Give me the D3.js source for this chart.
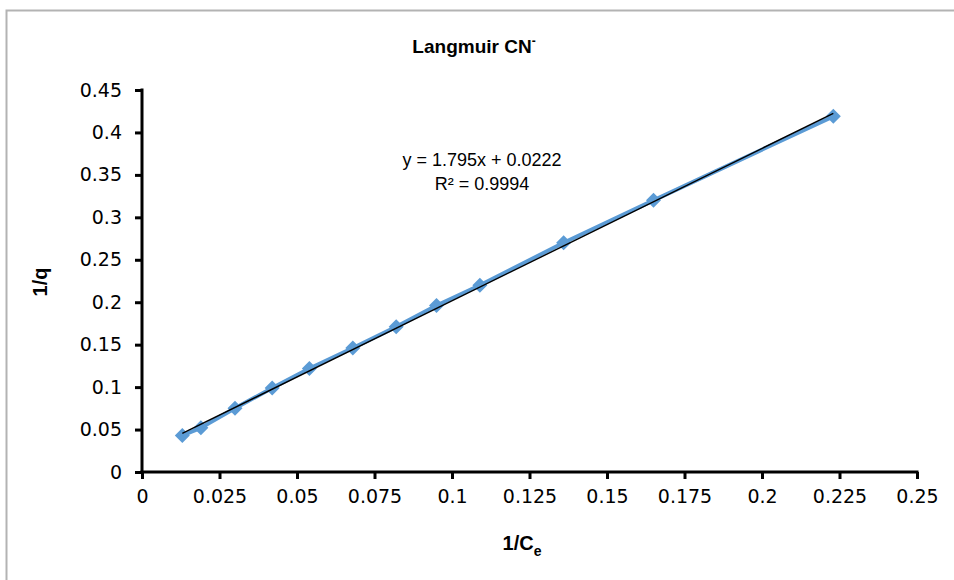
<!DOCTYPE html>
<html>
<head>
<meta charset="utf-8">
<script src="https://cdn.jsdelivr.net/npm/d3@7"></script>
<style>
  body { margin: 0; background: #fff; }
  .tick text { font-family: "DejaVu Sans", Verdana, sans-serif; font-size: 19px; fill: #000; }
</style>
</head>
<body>
<div id="chart"></div>
<script>
// Data
const invCe = [0.013, 0.019, 0.030, 0.042, 0.054, 0.068, 0.082, 0.095, 0.109, 0.136, 0.165, 0.223];
const invQ  = [0.043, 0.052, 0.075, 0.099, 0.122, 0.146, 0.171, 0.196, 0.220, 0.270, 0.320, 0.419];
const xTicks = [0, 0.025, 0.05, 0.075, 0.1, 0.125, 0.15, 0.175, 0.2, 0.225, 0.25];
const yTicks = [0, 0.05, 0.1, 0.15, 0.2, 0.25, 0.3, 0.35, 0.4, 0.45];
const slope = 1.795, intercept = 0.0222;

const width = 954, height = 580;
let margin = { top: 90, right: 37, bottom: 108, left: 142 };

let svg = d3.select("#chart").append("svg")
    .attr("width", width)
    .attr("height", height);

// outer chart border
svg.append("rect")
    .attr("x", 6.5).attr("y", 10.5)
    .attr("width", 960).attr("height", 600)
    .attr("fill", "none")
    .attr("stroke", "#b3b3b3")
    .attr("stroke-width", 2);

let x = d3.scaleLinear().domain([0, 0.25]).range([margin.left, width - margin.right]);
let y = d3.scaleLinear().domain([0, 0.45]).range([height - margin.bottom, margin.top]);

// axes
let xAxis = d3.axisBottom(x).tickValues(xTicks).tickSize(7).tickPadding(11).tickFormat(d => d3.format("")(+d.toFixed(3)));
let yAxis = d3.axisLeft(y).tickValues(yTicks).tickSize(7).tickPadding(13).tickFormat(d => d3.format("")(+d.toFixed(2)));

let xg = svg.append("g")
    .attr("transform", "translate(0," + y(0) + ")")
    .call(xAxis);
let yg = svg.append("g")
    .attr("transform", "translate(" + x(0) + ",0)")
    .call(yAxis);

[xg, yg].forEach(g => {
    g.select(".domain").attr("stroke", "#000").attr("stroke-width", 3);
    g.selectAll(".tick line").attr("stroke", "#000").attr("stroke-width", 3);
    g.attr("font-family", null).attr("font-size", null);
});
xg.select(".domain").attr("d", "M" + (x(0) - 1.5) + ",0H" + (x(0.25) + 1.5));
yg.select(".domain").attr("d", "M0," + (y(0) + 1.5) + "V" + (y(0.45) - 1.5));

// data line and markers
let pts = invCe.map((v, i) => [v, invQ[i]]);
let line = d3.line().x(d => x(d[0])).y(d => y(d[1]));

svg.append("path")
    .datum(pts)
    .attr("d", line)
    .attr("fill", "none")
    .attr("stroke", "#5b9bd5")
    .attr("stroke-width", 4)
    .attr("stroke-linejoin", "round");

const r = 7.5;
svg.append("g")
    .selectAll("path")
    .data(pts)
    .join("path")
    .attr("transform", d => "translate(" + x(d[0]) + "," + y(d[1]) + ")")
    .attr("d", "M0," + (-r) + "L" + r + ",0L0," + r + "L" + (-r) + ",0Z")
    .attr("fill", "#5b9bd5");

// linear trendline
let xMin = d3.min(invCe), xMax = d3.max(invCe);
svg.append("line")
    .attr("x1", x(xMin)).attr("y1", y(slope * xMin + intercept))
    .attr("x2", x(xMax)).attr("y2", y(slope * xMax + intercept))
    .attr("stroke", "#000")
    .attr("stroke-width", 1.4);

// title
let title = svg.append("text")
    .attr("x", 474).attr("y", 53)
    .attr("text-anchor", "middle")
    .style("font-family", "'Liberation Sans', Arial, sans-serif")
    .style("font-weight", "bold")
    .style("font-size", "19px");
title.append("tspan").text("Langmuir CN");
title.append("tspan").attr("dy", -8).style("font-size", "12px").text("-");

// trendline equation
let eq = svg.append("g")
    .style("font-family", "'Liberation Sans', Arial, sans-serif")
    .style("font-size", "18px")
    .attr("text-anchor", "middle");
eq.append("text").attr("x", 482).attr("y", 166).text("y = " + slope + "x + " + intercept);
eq.append("text").attr("x", 482).attr("y", 190).text("R² = 0.9994");

// axis titles
let xt = svg.append("text")
    .attr("x", 522).attr("y", 550)
    .attr("text-anchor", "middle")
    .style("font-family", "'Liberation Sans', Arial, sans-serif")
    .style("font-weight", "bold")
    .style("font-size", "20px");
xt.append("tspan").text("1/C");
xt.append("tspan").attr("dy", 6).style("font-size", "14px").text("e");

svg.append("text")
    .attr("transform", "translate(47,282) rotate(-90)")
    .attr("text-anchor", "middle")
    .style("font-family", "'Liberation Sans', Arial, sans-serif")
    .style("font-weight", "bold")
    .style("font-size", "20px")
    .text("1/q");
</script>
</body>
</html>
